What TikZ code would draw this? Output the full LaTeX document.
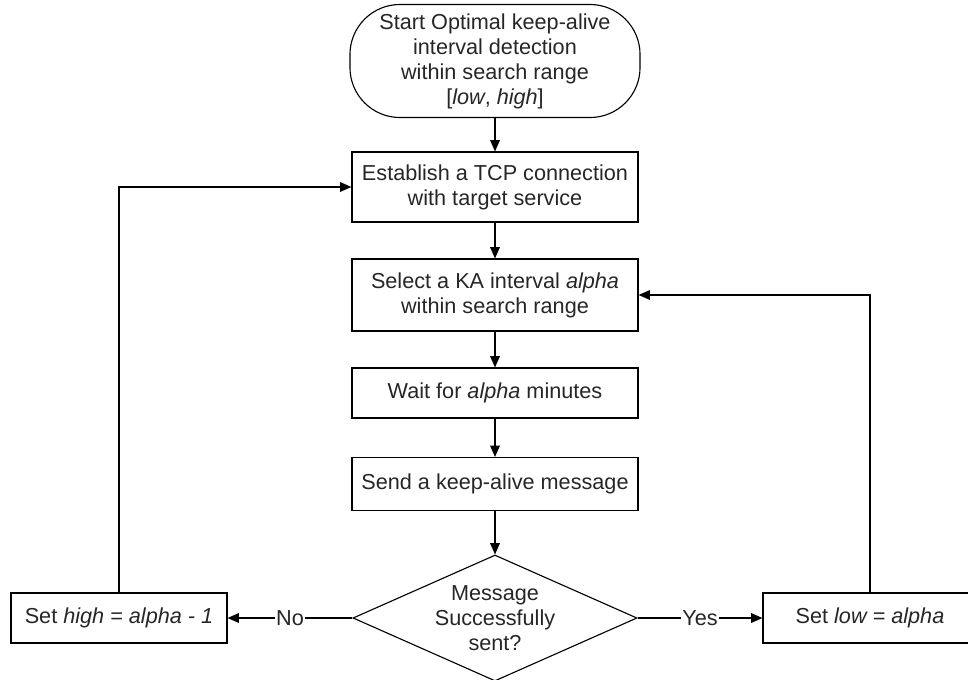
\documentclass[tikz,border=0pt]{standalone}
\usepackage{fontspec}
\setmainfont{Liberation Sans}
\usetikzlibrary{shapes.geometric,arrows.meta}
\begin{document}
\begin{tikzpicture}[x=0.025cm, y=-0.025cm,
        every node/.style={font=\fontsize{15.4pt}{17.8pt}\selectfont, text=black!85, align=center},
        proc/.style={draw, line width=0.8pt, inner sep=0pt, minimum width=7.15cm},
        decide/.style={draw, diamond, aspect=2.25, line width=0.8pt, inner sep=0pt},
        flow/.style={line width=0.8pt, -{Triangle[length=2.8mm,width=2.4mm]}}]
        \useasboundingbox (0, 0) rectangle (968, 679);
        \node [draw, line width=0.8pt, rounded corners=1.25cm, inner sep=0pt,
               minimum width=7.25cm, minimum height=2.825cm] (start) at (495, 61)
               {Start Optimal keep-alive\\interval detection\\within search range\\{}[\textit{low}, \textit{high}]};
        \node [proc, minimum height=1.75cm] (conn) at (495, 187) {Establish a TCP connection\\with target service};
        \node [proc, minimum height=1.8cm] (select) at (495, 295) {Select a KA interval \textit{alpha}\\within search range};
        \node [proc, minimum height=1.25cm] (wait) at (495, 393) {Wait for \textit{alpha} minutes};
        \node [proc, minimum height=1.325cm] (send) at (495, 484) {Send a keep-alive message};
        \node [decide, minimum width=7.1cm, minimum height=3.15cm] (sent) at (495, 618) {Message\\Successfully\\sent?};
        \node [proc, minimum width=5.4cm, minimum height=1.25cm] (sethigh) at (119, 618) {Set \textit{high = alpha - 1}};
        \node [proc, minimum width=5.35cm, minimum height=1.25cm] (setlow) at (870, 618) {Set \textit{low = alpha}};
        \path [flow] (start) edge node {} (conn);
        \path [flow] (conn) edge node {} (select);
        \path [flow] (select) edge node {} (wait);
        \path [flow] (wait) edge node {} (send);
        \path [flow] (send) edge node {} (sent);
        \path [flow] (sent) edge node [fill=white, inner sep=1pt] {No} (sethigh);
        \path [flow] (sent) edge node [fill=white, inner sep=1pt] {Yes} (setlow);
        \draw [flow] (sethigh) |- (conn);
        \draw [flow] (setlow) |- (select);
    \end{tikzpicture}
\end{document}
